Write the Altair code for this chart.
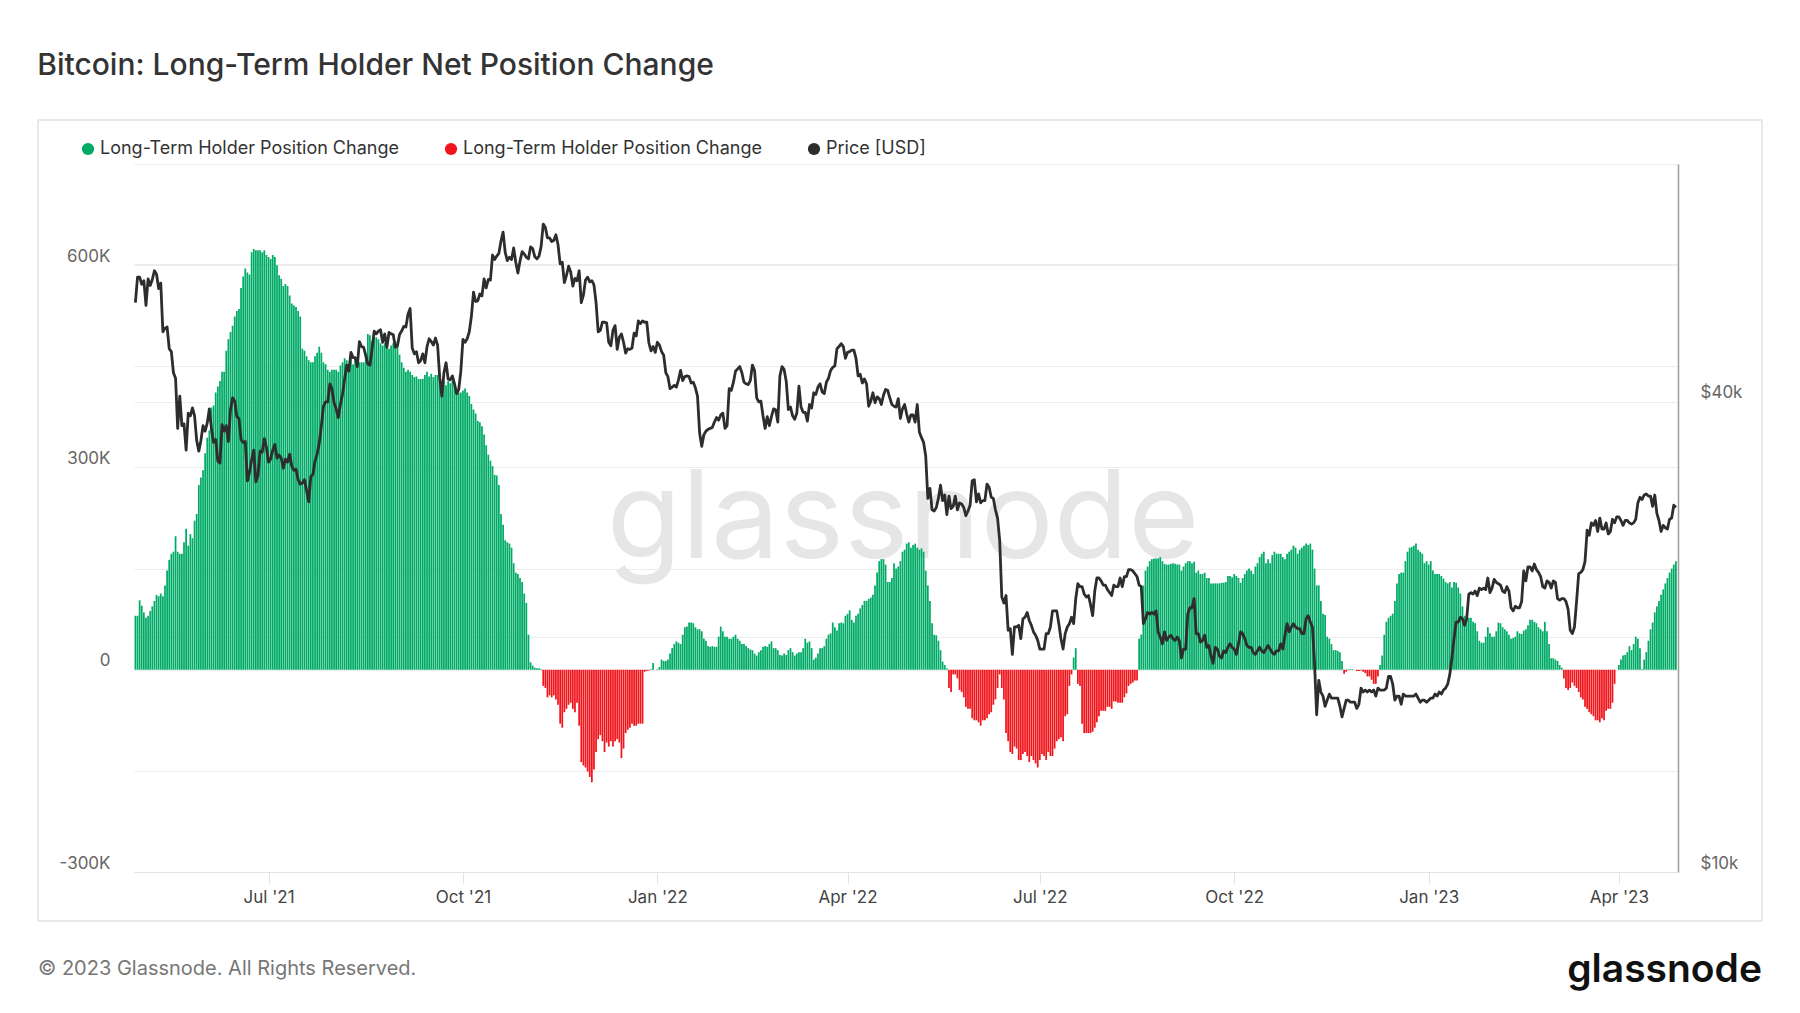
import altair as alt
import numpy as np
import pandas as pd

START_DATE = "2021-04-29"

# ---- Long-Term Holder net position change (thousands of BTC), daily ----
lth_apr_sep_2021 = [
    80, 80, 103, 95, 85, 77, 80, 87, 94, 102,
    111, 109, 113, 109, 125, 147, 163, 172, 175, 198,
    175, 172, 172, 189, 209, 184, 201, 195, 221, 231,
    274, 285, 296, 321, 344, 355, 389, 392, 411, 420,
    428, 442, 442, 473, 490, 501, 510, 524, 532, 535,
    566, 583, 595, 589, 586, 619, 624, 622, 622, 622,
    619, 622, 615, 612, 609, 615, 612, 600, 585, 580,
    569, 572, 569, 555, 543, 540, 538, 532, 524, 476,
    473, 465, 459, 456, 456, 465, 470, 479, 470, 456,
    453, 445, 442, 445, 445, 445, 442, 451, 456, 462,
    459, 453, 462, 453, 462, 453, 456, 456, 456, 465,
    498, 496, 487, 493, 493, 490, 484, 481, 484, 479,
    476, 481, 484, 487, 481, 467, 456, 448, 442, 445,
    442, 437, 434, 435, 431, 431, 431, 437, 442, 435,
    439, 434, 437, 437, 439, 428,
]
lth_sep21_feb22 = [
    428, 422, 428, 425, 428, 422, 414, 411, 411, 414,
    417, 411, 406, 394, 386, 380, 369, 367, 361, 349,
    333, 319, 310, 302, 289, 288, 274, 231, 215, 192,
    189, 187, 181, 158, 144, 142, 136, 130, 113, 99,
    52, 11, 6, 3, 2, 2, 1, -24, -27, -41,
    -38, -41, -38, -44, -52, -80, -86, -63, -58, -52,
    -49, -58, -63, -49, -83, -137, -142, -145, -151, -159,
    -167, -148, -122, -103, -97, -106, -122, -108, -114, -106,
    -114, -106, -103, -108, -131, -117, -94, -89, -86, -80,
    -83, -83, -80, -80, -80, -3, -2, -1, 1, 10,
    0, 1, 4, 15, 13, 13, 15, 24, 32, 38,
    42, 40, 38, 52, 63, 64, 70, 70, 69, 63,
    60, 60, 57, 46, 43, 35, 34, 35, 34, 34,
    49, 64, 57, 49, 49, 46, 46, 49, 52, 46,
    43, 38, 38, 35, 32, 30, 29,
]
lth_feb_jul_2022 = [
    24, 21, 26, 29, 34, 35, 34, 38, 42, 32,
    32, 29, 22, 21, 24, 22, 29, 32, 26, 21,
    24, 26, 26, 32, 46, 40, 42, 32, 15, 18,
    24, 32, 32, 35, 46, 52, 54, 70, 63, 58,
    69, 70, 69, 80, 83, 88, 74, 70, 80, 83,
    91, 96, 102, 102, 105, 107, 111, 125, 144, 161,
    164, 164, 156, 130, 130, 136, 158, 150, 153, 161,
    175, 178, 187, 189, 181, 185, 187, 181, 178, 180,
    175, 147, 125, 102, 69, 52, 51, 43, 29, 12,
    7, 2, -27, -33, -7, -7, -13, -30, -33, -41,
    -55, -58, -58, -72, -75, -75, -78, -83, -75, -75,
    -72, -66, -63, -52, -44, -27, -7, -27, -44, -94,
    -106, -122, -125, -114, -117, -134, -134, -125, -122, -128,
    -137, -128, -134, -139, -145, -134, -125, -128, -134, -122,
    -128, -128, -117, -106, -103,
]
lth_jul_dec_2022 = [
    -100, -106, -69, -66, -24, -7, 18, 32, -21, -24,
    -80, -94, -94, -94, -94, -92, -86, -78, -69, -61,
    -61, -61, -55, -55, -58, -47, -47, -49, -49, -49,
    -41, -35, -24, -21, -19, -16, -16, 46, 52, 125,
    147, 153, 161, 164, 165, 165, 165, 167, 161, 157,
    156, 156, 157, 158, 157, 156, 156, 147, 153, 158,
    161, 161, 158, 160, 144, 147, 142, 142, 144, 136,
    136, 128, 128, 128, 128, 128, 129, 129, 130, 139,
    139, 137, 142, 139, 136, 129, 136, 142, 147, 150,
    147, 142, 153, 158, 167, 172, 175, 158, 164, 158,
    170, 175, 172, 172, 172, 167, 164, 172, 175, 178,
    184, 181, 172, 178, 181, 184, 187, 185, 187, 178,
    150, 125, 125, 102, 83, 81, 49, 46, 38, 29,
    29, 28, 26, 13, -6, -3, 1, 1, 1, 0,
    -2, -2, -1, -3, -5, -10,
]
lth_dec22_apr23 = [
    -10, -15, -21, -21, -10, 7, 21, 52, 71, 77,
    80, 83, 102, 128, 142, 144, 144, 161, 175, 181,
    182, 184, 187, 178, 175, 172, 158, 161, 156, 161,
    147, 142, 142, 142, 139, 135, 130, 128, 130, 122,
    130, 129, 122, 113, 94, 80, 77, 77, 77, 71,
    69, 57, 43, 40, 40, 49, 63, 54, 49, 49,
    57, 70, 69, 63, 60, 57, 52, 46, 47, 49,
    57, 54, 53, 58, 60, 66, 74, 74, 71, 69,
    63, 60, 57, 71, 57, 38, 17, 17, 15, 13,
    7, 3, -13, -27, -30, -27, -19, -24, -27, -33,
    -41, -44, -55, -58, -63, -66, -69, -75, -75, -78,
    -72, -75, -61, -58, -58, -49, -21, 0, 7, 15,
    21, 22, 26, 35, 29, 38, 49, 46, 32, 1,
    15, 26, 43, 60, 70, 85, 94, 102, 111, 119,
    128, 136, 144, 150, 156, 161,
]

# ---- BTC price (thousands of USD), daily ----
price_2021 = [
    53.6, 57.8,
    # May
    57.8, 56.6, 57.2, 53.2, 57.5, 56.4, 57.4, 58.9, 58.3, 55.9,
    56.8, 49.2, 49.7, 49.9, 46.8, 46.4, 43.6, 42.9, 37.0, 40.7,
    37.3, 37.5, 34.7, 38.7, 38.4, 39.3, 38.4, 35.7, 34.6, 35.7, 37.3,
    # Jun
    36.7, 37.6, 39.2, 36.9, 35.5, 35.8, 33.6, 33.4, 37.4, 36.7,
    37.3, 35.6, 39.1, 40.5, 40.1, 38.3, 38.1, 35.8, 35.5, 35.6,
    31.7, 32.5, 33.7, 34.7, 31.6, 32.2, 34.6, 34.5, 35.9, 35.0,
    # Jul
    33.5, 33.8, 34.7, 35.3, 33.9, 34.2, 33.9, 32.9, 33.8, 33.5,
    34.3, 33.1, 32.7, 32.8, 31.8, 31.4, 31.5, 31.8, 30.8, 29.8,
    32.1, 32.3, 33.6, 34.3, 35.4, 37.3, 39.5, 40.0, 40.0, 42.2, 41.6,
    # Aug
    39.9, 39.2, 38.2, 39.7, 40.9, 42.8, 44.6, 43.8, 46.3, 45.6,
    45.6, 44.4, 47.8, 47.1, 47.0, 45.9, 44.7, 44.6, 46.8, 49.3,
    48.9, 49.3, 49.5, 47.7, 48.9, 47.0, 49.1, 48.9, 48.8, 47.0, 47.2,
    # Sep
    48.8, 49.3, 50.0, 49.9, 51.8, 52.7, 46.9, 46.1, 46.4, 44.9,
    45.2, 46.1, 44.9, 47.1, 48.2, 47.8, 47.3, 48.3, 47.3, 43.0,
    40.7, 43.6, 44.9, 42.8, 42.7, 43.2, 42.2, 41.0, 41.5, 43.8,
    # Oct
    48.1, 47.7, 48.2, 49.2, 51.5, 55.3, 53.8, 53.9, 55.0, 54.7,
    57.5, 56.0, 57.4, 57.3, 61.7, 60.9, 61.5, 62.0, 64.3, 66.0,
    62.2, 60.7, 61.3, 60.9, 63.0, 60.4, 58.5, 60.6, 62.3, 61.9, 61.3,
    # Nov
    61.0, 63.2, 62.9, 61.4, 61.0, 61.5, 63.3, 67.6, 66.9, 64.9,
    64.9, 64.2, 64.4, 65.5, 63.6, 60.1, 60.4, 56.9, 58.1, 59.7,
    58.7, 56.3, 57.6, 57.2, 58.9, 53.6, 54.8, 57.3, 57.8, 57.0,
    # Dec
    57.2, 56.5, 53.6, 49.2, 49.4, 50.6, 50.6, 50.5, 47.7, 47.2,
    49.4, 50.1, 46.7, 48.4, 48.9, 47.7, 46.2, 46.8, 46.7, 46.9,
    49.0, 48.6, 50.8, 50.4, 50.8, 50.6, 50.6, 47.6, 46.5, 47.1, 46.3,
]
price_2022 = [
    # Jan
    47.7, 47.3, 46.4, 45.9, 43.6, 43.1, 41.6, 41.8, 42.0, 41.8,
    42.7, 43.9, 42.6, 43.1, 43.2, 43.1, 42.3, 42.4, 41.7, 40.7,
    36.5, 35.1, 36.3, 36.7, 36.9, 37.0, 37.1, 37.7, 38.2, 37.9, 38.5,
    # Feb
    38.7, 37.0, 37.3, 41.6, 41.4, 42.4, 43.8, 44.1, 44.4, 43.6,
    42.4, 42.2, 42.1, 42.6, 44.6, 43.9, 40.5, 40.0, 40.1, 38.4,
    37.0, 38.3, 37.3, 38.3, 39.2, 39.1, 37.7, 43.2,
    # Mar
    44.4, 44.0, 42.5, 39.1, 39.4, 38.4, 38.0, 38.7, 41.9, 39.4,
    38.8, 38.8, 37.8, 39.7, 39.3, 41.1, 40.9, 41.8, 42.2, 41.2,
    41.0, 42.4, 42.9, 43.9, 44.3, 44.5, 46.8, 47.1, 47.5, 47.1, 45.5,
    # Apr
    46.3, 46.4, 46.6, 46.6, 45.5, 43.2, 43.4, 42.3, 42.8, 42.2,
    39.5, 40.1, 41.1, 39.9, 40.6, 40.4, 39.7, 40.8, 41.5, 41.4,
    40.5, 39.7, 39.5, 39.4, 40.4, 38.1, 39.2, 39.7, 38.6, 37.7,
    # May
    38.5, 38.5, 37.7, 39.7, 36.6, 36.0, 35.5, 34.1, 30.1, 31.0,
    29.1, 29.0, 29.3, 30.1, 31.3, 29.9, 30.4, 28.7, 30.3, 29.2,
    29.4, 30.3, 29.1, 29.7, 29.6, 29.3, 28.6, 29.0, 29.5, 31.7, 31.8,
    # Jun
    29.8, 30.5, 29.7, 29.9, 29.9, 31.4, 31.1, 30.2, 30.1, 29.1,
    28.4, 26.6, 22.5, 22.1, 22.6, 20.4, 20.5, 19.0, 20.6, 20.6,
    20.7, 19.9, 21.1, 21.2, 21.5, 21.0, 20.7, 20.3, 20.1, 19.8,
    # Jul
    19.3, 19.3, 19.3, 20.2, 20.2, 20.6, 21.6, 21.6, 21.6, 20.8,
    19.9, 19.3, 20.2, 20.6, 20.8, 21.2, 20.8, 22.4, 23.4, 23.2,
    23.2, 22.7, 22.5, 22.6, 22.0, 21.3, 22.9, 23.8, 23.8, 23.6, 23.3,
    # Aug
    23.3, 23.0, 22.8, 22.6, 23.3, 23.2, 23.2, 23.8, 23.2, 23.9,
    23.9, 24.4, 24.4, 24.3, 24.1, 23.9, 23.3, 23.2, 20.8, 21.1,
    21.5, 21.4, 21.5, 21.4, 21.6, 20.3, 20.0, 19.6, 20.3, 19.8, 20.0,
    # Sep
    20.1, 19.9, 19.8, 20.0, 19.8, 18.8, 19.3, 19.3, 21.4, 21.8,
    21.8, 22.4, 20.2, 20.2, 19.7, 19.8, 20.1, 19.4, 19.5, 18.9,
    18.5, 19.4, 19.3, 18.9, 18.8, 19.2, 19.1, 19.4, 19.6, 19.4,
    # Oct
    19.3, 19.0, 19.6, 20.3, 20.2, 19.9, 19.5, 19.4, 19.4, 19.1,
    19.0, 19.2, 19.4, 19.2, 19.1, 19.3, 19.5, 19.3, 19.1, 19.0,
    19.2, 19.2, 19.6, 19.3, 20.1, 20.8, 20.3, 20.6, 20.8, 20.6, 20.5,
    # Nov
    20.5, 20.2, 20.2, 21.1, 21.3, 20.9, 20.6, 18.5, 15.9, 17.6,
    17.0, 16.8, 16.3, 16.6, 16.9, 16.7, 16.7, 16.7, 16.7, 16.3,
    15.8, 16.2, 16.6, 16.6, 16.5, 16.5, 16.5, 16.2, 16.4, 17.2,
    # Dec
    17.0, 17.1, 17.0, 17.1, 17.0, 17.1, 16.8, 17.2, 17.1, 17.1,
    17.1, 17.2, 17.8, 17.8, 17.4, 16.6, 16.8, 16.8, 16.4, 16.9,
    16.8, 16.8, 16.8, 16.8, 16.8, 16.9, 16.7, 16.5, 16.6, 16.6, 16.5,
]
price_2023 = [
    # Jan
    16.6, 16.7, 16.7, 16.9, 16.8, 17.0, 16.9, 17.1, 17.2, 17.4,
    17.9, 18.8, 19.9, 20.9, 20.9, 21.2, 21.1, 20.7, 21.1, 22.7,
    22.8, 22.7, 22.9, 22.6, 23.1, 23.0, 23.1, 23.0, 23.8, 22.8, 23.1,
    # Feb
    23.7, 23.5, 23.4, 23.3, 22.9, 22.8, 23.2, 22.9, 21.8, 21.6,
    21.9, 21.8, 21.8, 22.2, 24.3, 23.6, 24.6, 24.6, 24.3, 24.8,
    24.4, 24.2, 23.9, 23.2, 23.1, 23.6, 23.5, 23.1,
    # Mar
    23.6, 23.5, 22.4, 22.3, 22.4, 22.4, 22.2, 21.7, 20.4, 20.2,
    20.6, 22.2, 24.1, 24.2, 24.4, 25.0, 27.4, 27.0, 28.0, 27.8,
    28.2, 27.3, 28.4, 27.5, 27.5, 28.0, 27.1, 27.3, 28.3, 28.0, 28.5,
    # Apr
    28.5, 28.2, 27.8, 28.2, 28.2, 28.0, 27.9, 28.0, 28.3, 29.7,
    30.2, 30.0, 30.4, 30.5, 30.3, 30.3, 29.4, 30.4, 28.8, 28.2,
    27.3, 27.8, 27.6, 27.5, 28.3, 28.4, 29.5, 29.3,
]

x_tick_dates = [(2021, 7), (2021, 10), (2022, 1), (2022, 4),
                (2022, 7), (2022, 10), (2023, 1), (2023, 4)]
left_ticks = [-300000, -150000, 0, 150000, 300000, 450000, 600000, 750000]
right_ticks = [10000, 20000, 40000, 60000]

TITLE = "Bitcoin: Long-Term Holder Net Position Change"
LEGEND_LABEL = "Long-Term Holder Position Change"
PRICE_LABEL = "Price [USD]"

GREEN = "#00ab66"
RED = "#f0141b"
DARK = "#2d2d2d"
GRID = "#ececec"

# ---- tables ----
lth_k = (lth_apr_sep_2021 + lth_sep21_feb22 + lth_feb_jul_2022
         + lth_jul_dec_2022 + lth_dec22_apr23)
price_k = price_2021 + price_2022 + price_2023

bar_dates = pd.date_range(START_DATE, periods=len(lth_k), freq="D")
price_dates = pd.date_range(START_DATE, periods=len(price_k), freq="D")

bars = pd.DataFrame({"date": bar_dates, "value": np.array(lth_k) * 1000.0})
bars["sign"] = np.where(bars["value"] >= 0, "pos", "neg")
price = pd.DataFrame({"date": price_dates, "price": np.array(price_k) * 1000.0})
one = pd.DataFrame({"k": [0]})

W, H = 1544, 708

x_enc = alt.X(
    "date:T",
    scale=alt.Scale(
        domain=[alt.DateTime(year=2021, month=4, date=28, hours=8),
                alt.DateTime(year=2023, month=4, date=29, hours=0)],
        nice=False, padding=0,
    ),
    axis=alt.Axis(
        values=[alt.DateTime(year=y, month=m, date=1) for y, m in x_tick_dates],
        format="%b '%y", title=None, grid=False,
        labelFontSize=17, labelColor="#444", labelFont="Inter",
        tickColor="#e4e4e4", tickSize=12, labelPadding=5,
        domainColor="#e4e4e4", domainWidth=1,
    ),
)

watermark = alt.Chart(one).mark_text(
    text="glassnode", font="Inter", fontSize=122, color="#e6e6e6",
    align="center", baseline="alphabetic",
).encode(x=alt.value(W / 2 - 3), y=alt.value(394))

bar_layer = alt.Chart(bars).mark_bar(size=1.75).encode(
    x=x_enc,
    y=alt.Y(
        "value:Q",
        scale=alt.Scale(domain=[-300000, 750000], nice=False, zero=False),
        axis=alt.Axis(
            orient="left", values=left_ticks, title=None,
            labelExpr="datum.value == 0 ? '0' : (datum.value % 300000 == 0 ? (datum.value < 0 ? '-' : '') + format(abs(datum.value) / 1000, 'd') + 'K' : '')",
            grid=True, gridColor=GRID, gridWidth=1, domain=False, ticks=False,
            labelBaseline="bottom", labelPadding=24, labelFontSize=17,
            labelColor="#666", labelFont="Inter",
        ),
    ),
    color=alt.Color(
        "sign:N",
        scale=alt.Scale(domain=["pos", "neg", "price"], range=[GREEN, RED, DARK]),
        legend=alt.Legend(
            title=None, orient="none", legendX=-55, legendY=-24,
            direction="horizontal", symbolType="circle", symbolSize=150,
            symbolStrokeWidth=0, labelFontSize=18, labelColor="#333",
            labelFont="Inter", labelOffset=3, columnPadding=43, labelLimit=0,
            labelExpr=f"datum.value == 'price' ? '{PRICE_LABEL}' : '{LEGEND_LABEL}'",
        ),
    ),
)

price_layer = alt.Chart(price).mark_line(
    color=DARK, strokeWidth=2.8, strokeJoin="round"
).encode(
    x=x_enc,
    y=alt.Y(
        "price:Q",
        scale=alt.Scale(type="log", domain=[10000, 80700], nice=False),
        axis=alt.Axis(
            orient="right", values=right_ticks, title=None,
            labelExpr="datum.value == 10000 ? '$10k' : (datum.value == 40000 ? '$40k' : '')",
            grid=True, gridColor=GRID, gridWidth=1,
            domain=True, domainColor="#9c9c9c", domainWidth=1.5, ticks=False,
            labelBaseline="bottom", labelPadding=22, labelFontSize=17,
            labelColor="#666", labelFont="Inter",
        ),
    ),
)

box = alt.Chart(one).mark_rect(
    fillOpacity=0, stroke="#e2e2e2", strokeWidth=1.5
).encode(x=alt.value(-96), x2=alt.value(W + 84), y=alt.value(-44), y2=alt.value(H + 49))

copyright_text = alt.Chart(one).mark_text(
    text="© 2023 Glassnode. All Rights Reserved.", font="Inter", fontSize=20,
    color="#777", align="left", baseline="alphabetic",
).encode(x=alt.value(-96), y=alt.value(811))

logo = alt.Chart(one).mark_text(
    text="glassnode", font="Inter", fontSize=39, fontWeight=600,
    color="#111", align="right", baseline="alphabetic",
).encode(x=alt.value(W + 84), y=alt.value(818))

chart = alt.layer(
    watermark, bar_layer, price_layer, box, copyright_text, logo
).resolve_scale(
    y="independent"
).properties(
    width=W, height=H,
    autosize=alt.AutoSizeParams(type="none"),
    padding={"left": 126, "top": 156, "right": 114, "bottom": 128},
    title=alt.TitleParams(
        TITLE, anchor="start", frame="bounds", fontSize=30, fontWeight=500,
        color="#333", font="Inter", offset=38,
    ),
).configure(
    font="Inter"
).configure_view(
    strokeWidth=0
)

chart.save("out.html", embed_options={"renderer": "svg", "actions": False})
